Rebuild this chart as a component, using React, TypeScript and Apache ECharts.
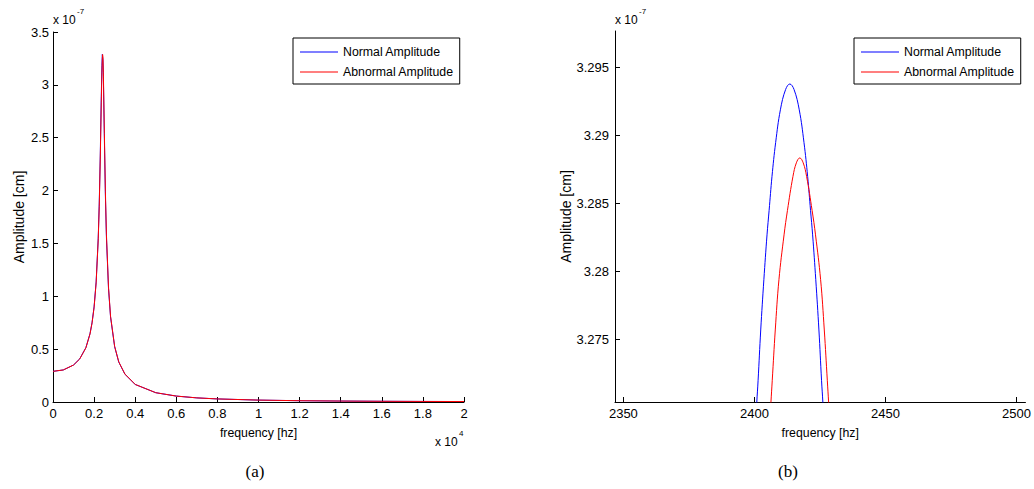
import React, { useEffect, useRef } from "react";
import * as echarts from "echarts";

// ---- data (amplitudes in units of 1e-7 cm, frequency in Hz) ----
const seriesNames = ["Normal Amplitude", "Abnormal Amplitude"];

const leftFreq = [0, 500, 1000, 1300, 1600, 1800, 1900, 2000, 2100, 2200, 2250, 2300, 2350, 2380, 2400, 2414, 2430, 2450, 2500, 2550, 2600, 2700, 2800, 3000, 3200, 3500, 4000, 5000, 6000, 7000, 8000, 10000, 12000, 14000, 16000, 18000, 20000];
const leftNormal = [0.29, 0.303, 0.35, 0.408, 0.514, 0.646, 0.75, 0.901, 1.137, 1.547, 1.873, 2.327, 2.89, 3.18, 3.288, 3.294, 3.237, 3.08, 2.49, 1.953, 1.559, 1.076, 0.805, 0.523, 0.378, 0.263, 0.166, 0.088, 0.056, 0.039, 0.029, 0.018, 0.0122, 0.0089, 0.0067, 0.0053, 0.0043];
const leftAbnormal = [0.29, 0.303, 0.35, 0.407, 0.512, 0.643, 0.746, 0.895, 1.128, 1.532, 1.85, 2.29, 2.83, 3.12, 3.24, 3.287, 3.262, 3.12, 2.54, 1.99, 1.585, 1.09, 0.812, 0.526, 0.38, 0.264, 0.166, 0.088, 0.056, 0.039, 0.029, 0.018, 0.0122, 0.0089, 0.0067, 0.0053, 0.0043];

const rightNormalFreq = [2400.4, 2400.9, 2401.4, 2402.4, 2403.6, 2404.8, 2405.6, 2406.7, 2408.1, 2409.9, 2411.9, 2413.5, 2415.1, 2417.1, 2418.9, 2420.3, 2421.4, 2422.2, 2423.4, 2424.6, 2425.6, 2426.1, 2426.6];
const rightNormalAmp = [3.2685, 3.2704, 3.272, 3.2757, 3.2794, 3.2827, 3.2845, 3.287, 3.2895, 3.2919, 3.2934, 3.2938, 3.2934, 3.2919, 3.2895, 3.287, 3.2845, 3.2827, 3.2794, 3.2757, 3.272, 3.2704, 3.2685];
const rightAbnormalFreq = [2405.7, 2406.3, 2406.8, 2407.95, 2409.35, 2411.3, 2412.6, 2414.7, 2416.0, 2417.3, 2418.6, 2419.9, 2422.0, 2423.3, 2425.25, 2426.65, 2427.8, 2428.3, 2428.9];
const rightAbnormalAmp = [3.2685, 3.2704, 3.272, 3.2757, 3.2794, 3.2827, 3.2845, 3.287, 3.288, 3.28836, 3.288, 3.287, 3.2845, 3.2827, 3.2794, 3.2757, 3.272, 3.2704, 3.2685];

const leftXTicks = [0, 2000, 4000, 6000, 8000, 10000, 12000, 14000, 16000, 18000, 20000];
const leftYTicks = [0, 0.5, 1, 1.5, 2, 2.5, 3, 3.5];
const rightXTicks = [2350, 2400, 2450, 2500];
const rightYTicks = [3.275, 3.28, 3.285, 3.29, 3.295];

const FONT = "'Liberation Sans', Arial, Helvetica, sans-serif";
const SERIF = "'Liberation Serif', 'DejaVu Serif', serif";
const BLUE = "#0000ff";
const RED = "#ff0000";

function zip(xs: number[], ys: number[]) {
  return xs.map((x, i) => [x, ys[i]]);
}

const axisLine = { show: true, onZero: false, lineStyle: { color: "#000", width: 1 } };
function ticks(values: number[]) {
  return { show: true, inside: true, length: 5, customValues: values, lineStyle: { color: "#000", width: 1 } };
}

export default function App() {
  const ref = useRef<HTMLDivElement>(null);
  useEffect(() => {
    if (!ref.current) return;
    const chart = echarts.init(ref.current, undefined, { renderer: "svg" });
    const labelStyle = { color: "#000", fontFamily: FONT, fontSize: 13 };
    const nameStyle = { color: "#000", fontFamily: FONT, fontSize: 12.3 };
    const yNameStyle = { color: "#000", fontFamily: FONT, fontSize: 14 };
    const legendCommon = {
      orient: "vertical",
      top: 38,
      data: seriesNames,
      icon: "rect",
      borderColor: "#000",
      borderWidth: 1,
      borderRadius: 0,
      backgroundColor: "#fff",
      padding: [8, 6, 6, 7],
      itemGap: 8,
      itemWidth: 38,
      itemHeight: 1,
      textStyle: { color: "#000", fontFamily: FONT, fontSize: 12.3 },
      selectedMode: false,
    };
    chart.setOption({
      animation: false,
      backgroundColor: "#fff",
      grid: [
        { left: 53, top: 32, width: 411, height: 370 },
        { left: 615, top: 31, width: 411, height: 371 },
      ],
      xAxis: [
        {
          type: "value", gridIndex: 0, min: 0, max: 20000, interval: 2000,
          splitLine: { show: false }, axisLine,
          axisTick: ticks(leftXTicks),
          axisLabel: { ...labelStyle, margin: 5, customValues: leftXTicks, formatter: (v: number) => String(v / 10000) },
          name: "frequency [hz]", nameLocation: "middle", nameGap: 25, nameTextStyle: nameStyle,
        },
        {
          type: "value", gridIndex: 1, min: 2346.8, max: 2503.4,
          splitLine: { show: false }, axisLine,
          axisTick: ticks(rightXTicks),
          axisLabel: { ...labelStyle, margin: 5, customValues: rightXTicks, formatter: (v: number) => String(v) },
          name: "frequency [hz]", nameLocation: "middle", nameGap: 25, nameTextStyle: nameStyle,
        },
      ],
      yAxis: [
        {
          type: "value", gridIndex: 0, min: 0, max: 3.5, interval: 0.5,
          splitLine: { show: false }, axisLine,
          axisTick: ticks(leftYTicks),
          axisLabel: { ...labelStyle, margin: 4, customValues: leftYTicks },
          name: "Amplitude [cm]", nameLocation: "middle", nameGap: 27, nameTextStyle: yNameStyle,
        },
        {
          type: "value", gridIndex: 1, min: 3.2704, max: 3.2977,
          splitLine: { show: false }, axisLine,
          axisTick: ticks(rightYTicks),
          axisLabel: { ...labelStyle, margin: 6, customValues: rightYTicks, formatter: (v: number) => String(+v.toFixed(3)) },
          name: "Amplitude [cm]", nameLocation: "middle", nameGap: 40, nameTextStyle: yNameStyle,
        },
      ],
      legend: [
        { ...legendCommon, left: 293 },
        { ...legendCommon, left: 854 },
      ],
      series: [
        {
          name: seriesNames[0], type: "line", xAxisIndex: 0, yAxisIndex: 0,
          data: zip(leftFreq, leftNormal), symbol: "none", color: BLUE,
          lineStyle: { color: BLUE, width: 1 },
        },
        {
          name: seriesNames[1], type: "line", xAxisIndex: 0, yAxisIndex: 0,
          data: zip(leftFreq, leftAbnormal), symbol: "none", color: RED,
          lineStyle: { color: RED, width: 1 },
        },
        {
          name: seriesNames[0], type: "line", xAxisIndex: 1, yAxisIndex: 1,
          data: zip(rightNormalFreq, rightNormalAmp), symbol: "none", color: BLUE, smooth: 0.4,
          lineStyle: { color: BLUE, width: 1 },
        },
        {
          name: seriesNames[1], type: "line", xAxisIndex: 1, yAxisIndex: 1,
          data: zip(rightAbnormalFreq, rightAbnormalAmp), symbol: "none", color: RED, smooth: 0.4,
          lineStyle: { color: RED, width: 1 },
        },
      ],
      graphic: [
        { type: "text", x: 53, y: 20, style: { text: "x 10", fontFamily: FONT, fontSize: 12, fill: "#000", verticalAlign: "middle" } },
        { type: "text", x: 77, y: 11, style: { text: "-7", fontFamily: FONT, fontSize: 8, fill: "#000", verticalAlign: "middle" } },
        { type: "text", x: 615, y: 20, style: { text: "x 10", fontFamily: FONT, fontSize: 12, fill: "#000", verticalAlign: "middle" } },
        { type: "text", x: 639, y: 11, style: { text: "-7", fontFamily: FONT, fontSize: 8, fill: "#000", verticalAlign: "middle" } },
        { type: "text", x: 435, y: 442, style: { text: "x 10", fontFamily: FONT, fontSize: 12, fill: "#000", verticalAlign: "middle" } },
        { type: "text", x: 459, y: 433, style: { text: "4", fontFamily: FONT, fontSize: 8, fill: "#000", verticalAlign: "middle" } },
        { type: "text", x: 255, y: 471, style: { text: "(a)", fontFamily: SERIF, fontSize: 17, fill: "#000", align: "center", verticalAlign: "middle" } },
        { type: "text", x: 788, y: 471, style: { text: "(b)", fontFamily: SERIF, fontSize: 17, fill: "#000", align: "center", verticalAlign: "middle" } },
      ],
    });
    return () => chart.dispose();
  }, []);
  return <div ref={ref} style={{ position: "fixed", left: 0, top: 0, width: 1034, height: 489 }} />;
}
